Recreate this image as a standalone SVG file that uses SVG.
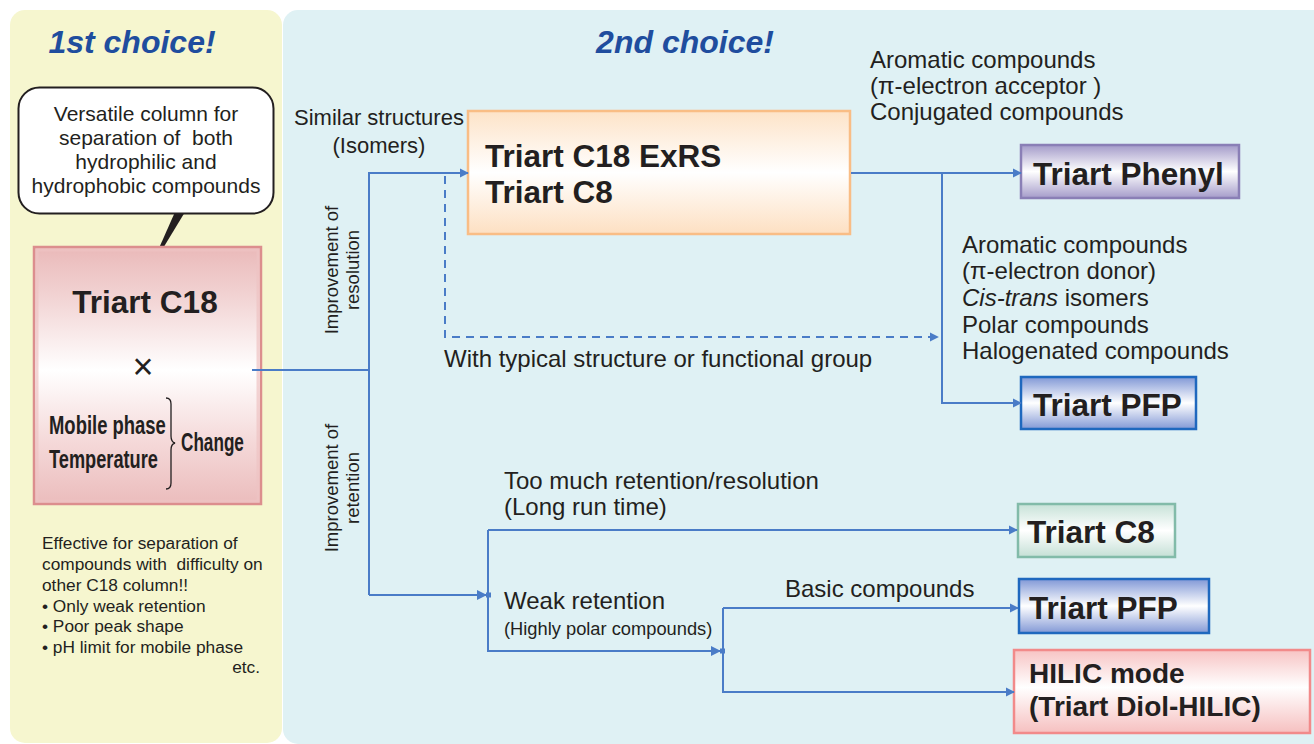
<svg xmlns="http://www.w3.org/2000/svg" width="1314" height="744" viewBox="0 0 1314 744">
<style>
text{font-family:"Liberation Sans",Arial,sans-serif;fill:#231f20}
.h{font-weight:bold;font-style:italic;font-size:32px;fill:#1f4d9e}
.b{font-weight:bold;font-size:31.5px}
.bb{font-weight:bold;font-size:28px}
.c{font-size:22px}
.m{font-size:24px}
.s{font-size:17.3px}
.r{font-size:18.5px}
.bt{font-size:21px}
.cd{font-size:26px;font-weight:bold}
.ln{fill:none;stroke:#4a7cc7;stroke-width:2}
.dash{fill:none;stroke:#4a7cc7;stroke-width:2;stroke-dasharray:8,6}
</style>
<defs>
<marker id="ah" viewBox="0 0 10 10" refX="9" refY="5" markerWidth="9" markerHeight="11" markerUnits="userSpaceOnUse" orient="auto">
<path d="M0,0 L10,5 L0,10 z" fill="#4a7cc7"/>
</marker>
<marker id="ahs" viewBox="0 0 14 10" refX="13" refY="5" markerWidth="14" markerHeight="11" markerUnits="userSpaceOnUse" orient="auto">
<path d="M0,0 L10,5 L0,10 z" fill="#4a7cc7"/><rect x="9" y="2.5" width="5" height="5" fill="#4a7cc7"/>
</marker>
<linearGradient id="gPink" x1="0" y1="0" x2="0" y2="1">
<stop offset="0" stop-color="#eab9b9"/><stop offset="0.2" stop-color="#f2d4d4"/><stop offset="0.48" stop-color="#ffffff"/><stop offset="0.75" stop-color="#f5dada"/><stop offset="1" stop-color="#ebbcbc"/>
</linearGradient>
<linearGradient id="gOrange" x1="0" y1="0" x2="0" y2="1">
<stop offset="0" stop-color="#fde3c8"/><stop offset="0.5" stop-color="#ffffff"/><stop offset="1" stop-color="#fde0c2"/>
</linearGradient>
<linearGradient id="gPurple" x1="0" y1="0" x2="0" y2="1">
<stop offset="0" stop-color="#a49bc9"/><stop offset="0.5" stop-color="#ffffff"/><stop offset="1" stop-color="#a59cca"/>
</linearGradient>
<linearGradient id="gBlue" x1="0" y1="0" x2="0" y2="1">
<stop offset="0" stop-color="#8198d6"/><stop offset="0.5" stop-color="#ffffff"/><stop offset="1" stop-color="#8399d6"/>
</linearGradient>
<linearGradient id="gGreen" x1="0" y1="0" x2="0" y2="1">
<stop offset="0" stop-color="#c7e2d8"/><stop offset="0.5" stop-color="#ffffff"/><stop offset="1" stop-color="#c5e0d6"/>
</linearGradient>
<linearGradient id="gRed" x1="0" y1="0" x2="0" y2="1">
<stop offset="0" stop-color="#f7c4c4"/><stop offset="0.45" stop-color="#ffffff"/><stop offset="1" stop-color="#f6c0c0"/>
</linearGradient>
</defs>

<rect x="0" y="0" width="1314" height="744" fill="#ffffff"/>
<g id="panels">
<rect x="10" y="10" width="272" height="733" rx="15" fill="#f6f6cf"/>
<rect x="283" y="10" width="1045" height="734" rx="15" fill="#dff1f4"/>
<text class="h" x="132" y="53" text-anchor="middle">1st choice!</text>
<text class="h" x="685" y="53" text-anchor="middle">2nd choice!</text>
</g>

<g id="bubble">
<path d="M175,212 L185,212 L148,273 z" fill="#231f20"/>
<rect x="18.5" y="87.5" width="255" height="126" rx="21" fill="#ffffff" stroke="#231f20" stroke-width="2"/>
<text class="bt" x="146" y="121" text-anchor="middle">Versatile column for</text>
<text class="bt" x="146" y="145" text-anchor="middle" xml:space="preserve">separation of  both</text>
<text class="bt" x="146" y="169" text-anchor="middle">hydrophilic and</text>
<text class="bt" x="146" y="193" text-anchor="middle">hydrophobic compounds</text>
</g>

<g id="c18">
<rect x="34" y="247" width="227" height="257" fill="url(#gPink)" stroke="#dc8e8e" stroke-width="2.5"/>
<rect x="37" y="250" width="221" height="251" fill="none" stroke="#eec3c3" stroke-width="3" opacity="0.7"/>
<text class="b" x="145" y="313" text-anchor="middle">Triart C18</text>
<text x="143" y="379" text-anchor="middle" style="font-size:36px">×</text>
<text class="cd" transform="translate(49,434) scale(0.71,1)">Mobile phase</text>
<text class="cd" transform="translate(49,468) scale(0.70,1)">Temperature</text>
<path d="M166,398 Q171,398 171,404 L171,436 Q171,442 175,443 Q171,444 171,450 L171,483 Q171,489 166,489" fill="none" stroke="#231f20" stroke-width="1.3"/>
<text class="cd" transform="translate(181,451) scale(0.66,1)">Change</text>
</g>

<g id="note">
<text class="s" x="42" y="549">Effective for separation of</text>
<text class="s" x="42" y="570" xml:space="preserve">compounds with  difficulty on</text>
<text class="s" x="42" y="591">other C18 column!!</text>
<text class="s" x="42" y="612">• Only weak retention</text>
<text class="s" x="42" y="632">• Poor peak shape</text>
<text class="s" x="42" y="653">• pH limit for mobile phase</text>
<text class="s" x="260" y="673" text-anchor="end">etc.</text>
</g>

<g id="labels">
<g transform="translate(338,270) rotate(-90)">
<text class="r" x="0" y="0" text-anchor="middle">Improvement of</text>
<text class="r" x="0" y="21" text-anchor="middle">resolution</text>
</g>
<g transform="translate(338,488) rotate(-90)">
<text class="r" x="0" y="0" text-anchor="middle">Improvement of</text>
<text class="r" x="0" y="21" text-anchor="middle">retention</text>
</g>
<text class="c" x="294" y="125">Similar structures</text>
<text class="c" x="379" y="153" text-anchor="middle">(Isomers)</text>
<text class="m" x="444" y="367">With typical structure or functional group</text>
<text class="m" x="870" y="68">Aromatic compounds</text>
<text class="m" x="870" y="94">(π-electron acceptor )</text>
<text class="m" x="870" y="120">Conjugated compounds</text>
<text class="m" x="962" y="253">Aromatic compounds</text>
<text class="m" x="962" y="279">(π-electron donor)</text>
<text class="m" x="962" y="306"><tspan font-style="italic">Cis-trans</tspan> isomers</text>
<text class="m" x="962" y="333">Polar compounds</text>
<text class="m" x="962" y="359">Halogenated compounds</text>
<text class="m" x="504" y="489">Too much retention/resolution</text>
<text class="m" x="504" y="515">(Long run time)</text>
<text class="m" x="504" y="609">Weak retention</text>
<text x="504" y="635" style="font-size:18.3px">(Highly polar compounds)</text>
<text class="m" x="785" y="597">Basic compounds</text>
</g>

<g id="exrs">
<rect x="468" y="111" width="382" height="123" fill="url(#gOrange)" stroke="#f9bd85" stroke-width="2.5"/>
<text class="b" x="485" y="167">Triart C18 ExRS</text>
<text class="b" x="485" y="203">Triart C8</text>
</g>

<g id="phenyl">
<rect x="1021" y="145" width="218" height="53" fill="url(#gPurple)" stroke="#8a7fb6" stroke-width="2.5"/>
<text class="b" x="1033" y="185">Triart Phenyl</text>
</g>

<g id="pfp1">
<rect x="1021" y="377" width="175" height="52" fill="url(#gBlue)" stroke="#1f68be" stroke-width="2.5"/>
<text class="b" x="1033" y="416">Triart PFP</text>
</g>

<g id="c8">
<rect x="1018" y="504" width="157" height="53" fill="url(#gGreen)" stroke="#82bba9" stroke-width="2.5"/>
<text class="b" x="1027" y="543">Triart C8</text>
</g>

<g id="pfp2">
<rect x="1019" y="579" width="190" height="54" fill="url(#gBlue)" stroke="#1f68be" stroke-width="2.5"/>
<text class="b" x="1029" y="619">Triart PFP</text>
</g>

<g id="hilic">
<rect x="1014" y="650" width="296" height="83" fill="url(#gRed)" stroke="#f28a8a" stroke-width="2.5"/>
<text class="bb" x="1029" y="683">HILIC mode</text>
<text class="bb" x="1029" y="716">(Triart Diol-HILIC)</text>
</g>

<g id="connectors">
<path class="ln" d="M252,370 H369"/>
<path class="ln" d="M369,595 V173 H468" marker-end="url(#ah)"/>
<path class="ln" d="M369,595 H490" marker-end="url(#ahs)"/>
<path class="dash" d="M445,176 V337 H938" marker-end="url(#ah)"/>
<path class="ln" d="M851,173 H1021" marker-end="url(#ah)"/>
<path class="ln" d="M942,173 V403 H1021" marker-end="url(#ah)"/>
<path class="ln" d="M488,530 H1017" marker-end="url(#ah)"/>
<path class="ln" d="M488,530 V651 H724" marker-end="url(#ahs)"/>
<path class="ln" d="M723,608 V692 H1014" marker-end="url(#ah)"/>
<path class="ln" d="M723,608 H1018" marker-end="url(#ah)"/>
</g>
</svg>
